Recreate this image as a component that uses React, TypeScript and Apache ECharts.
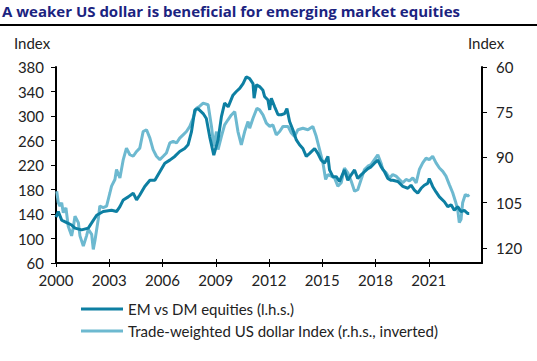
import React, { useEffect, useRef } from 'react';
import * as echarts from 'echarts';

const titleText = 'A weaker US dollar is beneficial for emerging market equities';
const emName = 'EM vs DM equities (l.h.s.)';
const usdName = 'Trade-weighted US dollar Index (r.h.s., inverted)';

const emYears = [
  2000.0, 2000.13, 2000.32, 2000.6, 2000.88, 2001.07, 2001.44, 2001.82, 2002.0, 2002.29,
  2002.66, 2003.13, 2003.41, 2003.6, 2003.79, 2004.07, 2004.35, 2004.54, 2004.72, 2005.0,
  2005.29, 2005.57, 2005.85, 2006.13, 2006.41, 2006.69, 2006.97, 2007.25, 2007.44, 2007.63,
  2007.82, 2008.0, 2008.29, 2008.47, 2008.66, 2008.89, 2009.13, 2009.32, 2009.5, 2009.7,
  2009.97, 2010.16, 2010.35, 2010.54, 2010.72, 2010.91, 2011.1, 2011.16, 2011.29, 2011.47,
  2011.66, 2011.75, 2011.94, 2012.04, 2012.13, 2012.32, 2012.51, 2012.69, 2012.88, 2013.01,
  2013.16, 2013.35, 2013.54, 2013.72, 2013.91, 2014.1, 2014.29, 2014.57, 2014.75, 2014.94,
  2015.13, 2015.32, 2015.41, 2015.6, 2015.79, 2015.97, 2016.25, 2016.44, 2016.63, 2016.82,
  2017.0, 2017.19, 2017.38, 2017.57, 2017.75, 2017.94, 2018.13, 2018.32, 2018.51, 2018.69,
  2018.88, 2018.97, 2019.26, 2019.54, 2019.82, 2020.0, 2020.19, 2020.38, 2020.57, 2020.75,
  2020.94, 2021.03, 2021.22, 2021.41, 2021.6, 2021.88, 2022.07, 2022.26, 2022.44, 2022.63,
  2022.82, 2023.0, 2023.19, 2023.28,
];
const emValues = [
  135, 144, 130, 126, 122, 117, 114, 117, 125, 138,
  144, 146, 144, 152, 163, 168, 174, 163, 171, 185,
  195, 195, 209, 223, 228, 234, 242, 247, 253, 274,
  310, 312, 304, 296, 266, 236, 261, 299, 321, 315,
  334, 340, 345, 353, 364, 361, 353, 329, 351, 348,
  342, 332, 326, 310, 329, 315, 302, 302, 304, 312,
  291, 277, 261, 253, 247, 234, 239, 247, 239, 228,
  223, 234, 212, 201, 201, 193, 212, 195, 204, 212,
  198, 204, 209, 214, 217, 223, 228, 217, 209, 198,
  195, 195, 193, 185, 182, 187, 179, 174, 182, 187,
  190, 198, 185, 176, 168, 160, 152, 155, 146, 152,
  144, 146, 141, 141,
];

const usdYears = [
  2000.04, 2000.13, 2000.22, 2000.32, 2000.41, 2000.56, 2000.69, 2000.88, 2000.97, 2001.07,
  2001.26, 2001.35, 2001.54, 2001.72, 2001.82, 2002.01, 2002.1, 2002.19, 2002.38, 2002.47,
  2002.66, 2002.85, 2003.04, 2003.13, 2003.32, 2003.41, 2003.6, 2003.79, 2003.97, 2004.16,
  2004.35, 2004.54, 2004.72, 2004.91, 2005.1, 2005.29, 2005.47, 2005.66, 2005.85, 2006.04,
  2006.22, 2006.41, 2006.6, 2006.79, 2006.97, 2007.16, 2007.35, 2007.54, 2007.72, 2007.91,
  2008.1, 2008.29, 2008.57, 2008.76, 2008.89, 2009.04, 2009.13, 2009.32, 2009.5, 2009.69,
  2009.88, 2010.07, 2010.25, 2010.44, 2010.63, 2010.82, 2010.91, 2011.1, 2011.32, 2011.47,
  2011.66, 2011.85, 2012.04, 2012.22, 2012.41, 2012.6, 2012.79, 2013.07, 2013.26, 2013.44,
  2013.63, 2013.91, 2014.19, 2014.47, 2014.66, 2014.85, 2015.04, 2015.19, 2015.32, 2015.51,
  2015.69, 2015.88, 2016.07, 2016.25, 2016.44, 2016.63, 2016.82, 2017.0, 2017.19, 2017.38,
  2017.57, 2017.75, 2017.94, 2018.13, 2018.32, 2018.41, 2018.6, 2018.79, 2018.97, 2019.16,
  2019.35, 2019.54, 2019.72, 2019.91, 2020.1, 2020.29, 2020.47, 2020.66, 2020.85, 2021.03,
  2021.22, 2021.41, 2021.6, 2021.79, 2021.97, 2022.16, 2022.35, 2022.5, 2022.63, 2022.72,
  2022.82, 2022.91, 2023.06, 2023.19, 2023.28,
];
const usdValues = [
  101.2, 105, 106.1, 105, 108.3, 106.7, 112.8, 116, 113.3, 109.5,
  111.6, 116, 119.4, 116, 113.8, 115.5, 120.5, 117.7, 110.5, 106.1,
  106.6, 106.1, 101.7, 99.5, 97.3, 94, 96.8, 90.7, 86.9, 89.1,
  89.6, 88, 86.9, 81.4, 80.8, 83.6, 87.4, 89.6, 90.7, 89.6,
  88.5, 85.2, 84.7, 85.2, 83.6, 82.5, 81.4, 79.7, 77, 73.7,
  73, 72, 72.5, 79.7, 86.3, 81.4, 87.4, 83, 79.2, 77.5,
  75.9, 74.8, 81.4, 85.8, 81.4, 78.1, 80.3, 77, 73.7, 74.2,
  75.9, 78.6, 79.7, 79.2, 82.5, 81.4, 79.7, 79.7, 81.9, 83,
  80.8, 80.3, 80.8, 79.7, 83, 87.4, 91.8, 97.3, 95.7, 96.2,
  96.8, 99.5, 98.4, 93.5, 95.1, 97.8, 101.2, 100.7, 97.3, 94,
  92.9, 92.4, 90.7, 89.1, 92, 94, 95.1, 96.8, 95.7, 96.2,
  97.3, 98.4, 97.3, 97.8, 96.8, 98.4, 94, 91.8, 90.2, 90.7,
  89.6, 91.8, 93.5, 94.6, 96.2, 99, 101.7, 104.5, 107.2, 111.6,
  110.5, 105, 102.3, 102.8, 102.3,
];

const xTickYears = [2000, 2003, 2006, 2009, 2012, 2015, 2018, 2021];
const leftTicks = [60, 100, 140, 180, 220, 260, 300, 340, 380];
const rightTicks = [60, 75, 90, 105, 120];

const FONT = 'Lato, "Open Sans", sans-serif';
const TITLE_FONT = '"Open Sans", Lato, sans-serif';
const TEXT = '#222222';
const DARK = '#0d7fa2';
const LIGHT = '#6db9d0';

export default function App() {
  const ref = useRef<HTMLDivElement>(null);
  useEffect(() => {
    document.body.style.margin = '0';
    const chart = echarts.init(ref.current!, null, { renderer: 'svg' });
    const labelStyle = { fontSize: 15, color: TEXT, fontFamily: FONT };
    const plain = (v: number) => String(v);
    chart.setOption({
      animation: false,
      backgroundColor: '#ffffff',
      grid: { left: 56, right: 55, top: 67, bottom: 98 },
      graphic: [
        {
          type: 'text',
          left: 2,
          top: 3,
          style: { text: titleText, font: `bold 15px ${TITLE_FONT}`, fill: '#1b2380' },
        },
        {
          type: 'line',
          shape: { x1: 0, y1: 25, x2: 537, y2: 25 },
          style: { stroke: '#000000', lineWidth: 2 },
        },
        {
          type: 'text',
          left: 14,
          top: 35,
          style: { text: 'Index', font: `15px ${FONT}`, fill: TEXT },
        },
        {
          type: 'text',
          left: 468,
          top: 35,
          style: { text: 'Index', font: `15px ${FONT}`, fill: TEXT },
        },
      ],
      legend: {
        orient: 'vertical',
        left: 81,
        top: 300,
        padding: 0,
        icon: 'rect',
        itemWidth: 42,
        itemHeight: 3,
        itemGap: 4,
        textStyle: { fontSize: 15, color: TEXT, fontFamily: FONT, lineHeight: 18 },
        data: [emName, usdName],
      },
      xAxis: [
        {
          type: 'value',
          min: 2000,
          max: 2024,
          position: 'bottom',
          axisLine: { show: true, onZero: false, lineStyle: { color: '#000', width: 2 } },
          axisTick: { show: true, customValues: xTickYears, length: 4, lineStyle: { color: '#000', width: 1 } },
          axisLabel: { customValues: xTickYears, margin: 9, formatter: plain, ...labelStyle },
          splitLine: { show: false },
        },
        {
          type: 'value',
          min: 2000,
          max: 2024,
          position: 'bottom',
          axisLine: { show: false, onZero: false },
          axisTick: { show: true, inside: true, customValues: xTickYears, length: 4, lineStyle: { color: '#000', width: 1 } },
          axisLabel: { show: false },
          splitLine: { show: false },
        },
      ],
      yAxis: [
        {
          type: 'value',
          min: 60,
          max: 380,
          position: 'left',
          axisLine: { show: true, onZero: false, lineStyle: { color: '#000', width: 2 } },
          axisTick: { show: true, customValues: leftTicks, length: 5, lineStyle: { color: '#000', width: 1 } },
          axisLabel: { customValues: leftTicks, margin: 12, formatter: plain, ...labelStyle },
          splitLine: { show: false },
        },
        {
          type: 'value',
          min: 60,
          max: 125,
          inverse: true,
          position: 'right',
          axisLine: { show: true, onZero: false, lineStyle: { color: '#000', width: 2 } },
          axisTick: { show: true, customValues: rightTicks, length: 5, lineStyle: { color: '#000', width: 1 } },
          axisLabel: { customValues: rightTicks, margin: 14, formatter: plain, ...labelStyle },
          splitLine: { show: false },
        },
      ],
      series: [
        {
          name: emName,
          type: 'line',
          xAxisIndex: 0,
          yAxisIndex: 0,
          data: emYears.map((y, i) => [y, emValues[i]]),
          symbol: 'none',
          color: DARK,
          lineStyle: { width: 3, color: DARK },
          z: 3,
        },
        {
          name: usdName,
          type: 'line',
          xAxisIndex: 0,
          yAxisIndex: 1,
          data: usdYears.map((y, i) => [y, usdValues[i]]),
          symbol: 'none',
          color: LIGHT,
          lineStyle: { width: 3, color: LIGHT },
          z: 2,
        },
      ],
    });
    return () => chart.dispose();
  }, []);
  return <div ref={ref} style={{ width: 537, height: 361 }} />;
}
